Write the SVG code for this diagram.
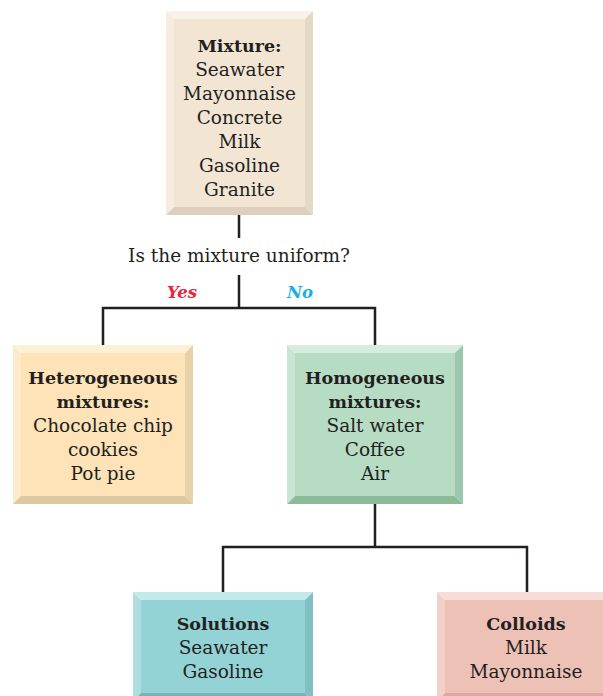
<svg xmlns="http://www.w3.org/2000/svg" width="603" height="696" viewBox="0 0 603 696">
  <style>
    .t { font-family: "DejaVu Serif", "Liberation Serif", serif; font-size: 18.5px; fill: #231f20; text-anchor: middle; }
    .b { font-weight: bold; font-size: 17.5px; }
    .q { font-family: "DejaVu Serif", "Liberation Serif", serif; font-size: 18.5px; fill: #231f20; text-anchor: middle; }
    .yn { font-family: "DejaVu Serif", "Liberation Serif", serif; font-size: 16.5px; font-weight: bold; font-style: italic; text-anchor: middle; }
    .conn { fill: none; stroke: #231f20; stroke-width: 2.5; }
    /* beige */
    .m-face { fill: #f3e5d3; } .m-top { fill: #f9f2e8; } .m-left { fill: #f6ede0; } .m-right { fill: #e4d8c6; } .m-bot { fill: #dccfbb; }
    /* tan */
    .h-face { fill: #fde3b7; } .h-top { fill: #fef0d7; } .h-left { fill: #fdeacb; } .h-right { fill: #e7d1ab; } .h-bot { fill: #ddc8a1; }
    /* green */
    .g-face { fill: #b6ddc4; } .g-top { fill: #d5ecde; } .g-left { fill: #c9e5d3; } .g-right { fill: #9dc7ac; } .g-bot { fill: #8cbb9c; }
    /* teal */
    .s-face { fill: #93d3d6; } .s-top { fill: #c5e9ea; } .s-left { fill: #aedee0; } .s-right { fill: #81c0c2; } .s-bot { fill: #77b4b7; }
    /* pink */
    .c-face { fill: #eec1b7; } .c-top { fill: #f6ddd6; } .c-left { fill: #f2d0c8; } .c-right { fill: #dcb0a6; } .c-bot { fill: #d7a99f; }
  </style>

  <g id="connectors">
    <path class="conn" d="M239,215 V238"/>
    <path class="conn" d="M239,275 V308"/>
    <path class="conn" d="M103,345 V308 H375 V345"/>
    <path class="conn" d="M375,504 V547"/>
    <path class="conn" d="M223,592 V547 H527 V592"/>
  </g>

  <g id="question">
    <text class="q" x="239" y="262">Is the mixture uniform?</text>
    <text class="yn" x="182" y="298" fill="#e8253a">Yes</text>
    <text class="yn" x="300" y="298" fill="#1aaee5">No</text>
  </g>

  <g id="mixture">
    <polygon class="m-top" points="166,11 313,11 305,19 174,19"/>
    <polygon class="m-left" points="166,11 174,19 174,207 166,215"/>
    <polygon class="m-right" points="313,11 313,215 305,207 305,19"/>
    <polygon class="m-bot" points="166,215 174,207 305,207 313,215"/>
    <rect class="m-face" x="174" y="19" width="131" height="188"/>
    <text class="t b" x="239.5" y="52">Mixture:</text>
    <text class="t" x="239.5" y="76">Seawater</text>
    <text class="t" x="239.5" y="100">Mayonnaise</text>
    <text class="t" x="239.5" y="124">Concrete</text>
    <text class="t" x="239.5" y="148">Milk</text>
    <text class="t" x="239.5" y="172">Gasoline</text>
    <text class="t" x="239.5" y="196">Granite</text>
  </g>

  <g id="heterogeneous">
    <polygon class="h-top" points="13,345 193,345 185,353 21,353"/>
    <polygon class="h-left" points="13,345 21,353 21,496 13,504"/>
    <polygon class="h-right" points="193,345 193,504 185,496 185,353"/>
    <polygon class="h-bot" points="13,504 21,496 185,496 193,504"/>
    <rect class="h-face" x="21" y="353" width="164" height="143"/>
    <text class="t b" x="103" y="384">Heterogeneous</text>
    <text class="t b" x="103" y="408">mixtures:</text>
    <text class="t" x="103" y="432">Chocolate chip</text>
    <text class="t" x="103" y="456">cookies</text>
    <text class="t" x="103" y="480">Pot pie</text>
  </g>

  <g id="homogeneous">
    <polygon class="g-top" points="287,345 463,345 455,353 295,353"/>
    <polygon class="g-left" points="287,345 295,353 295,496 287,504"/>
    <polygon class="g-right" points="463,345 463,504 455,496 455,353"/>
    <polygon class="g-bot" points="287,504 295,496 455,496 463,504"/>
    <rect class="g-face" x="295" y="353" width="160" height="143"/>
    <text class="t b" x="375" y="384">Homogeneous</text>
    <text class="t b" x="375" y="408">mixtures:</text>
    <text class="t" x="375" y="432">Salt water</text>
    <text class="t" x="375" y="456">Coffee</text>
    <text class="t" x="375" y="480">Air</text>
  </g>

  <g id="solutions">
    <polygon class="s-top" points="133,592 313,592 305,600 141,600"/>
    <polygon class="s-left" points="133,592 141,600 141,693 133,701"/>
    <polygon class="s-right" points="313,592 313,701 305,693 305,600"/>
    <polygon class="s-bot" points="133,701 141,693 305,693 313,701"/>
    <rect class="s-face" x="141" y="600" width="164" height="93"/>
    <text class="t b" x="223" y="630">Solutions</text>
    <text class="t" x="223" y="654">Seawater</text>
    <text class="t" x="223" y="678">Gasoline</text>
  </g>

  <g id="colloids">
    <polygon class="c-top" points="437,592 617,592 609,600 445,600"/>
    <polygon class="c-left" points="437,592 445,600 445,693 437,701"/>
    <polygon class="c-bot" points="437,701 445,693 609,693 617,701"/>
    <rect class="c-face" x="445" y="600" width="164" height="93"/>
    <text class="t b" x="526" y="630">Colloids</text>
    <text class="t" x="526" y="654">Milk</text>
    <text class="t" x="526" y="678">Mayonnaise</text>
  </g>
</svg>
